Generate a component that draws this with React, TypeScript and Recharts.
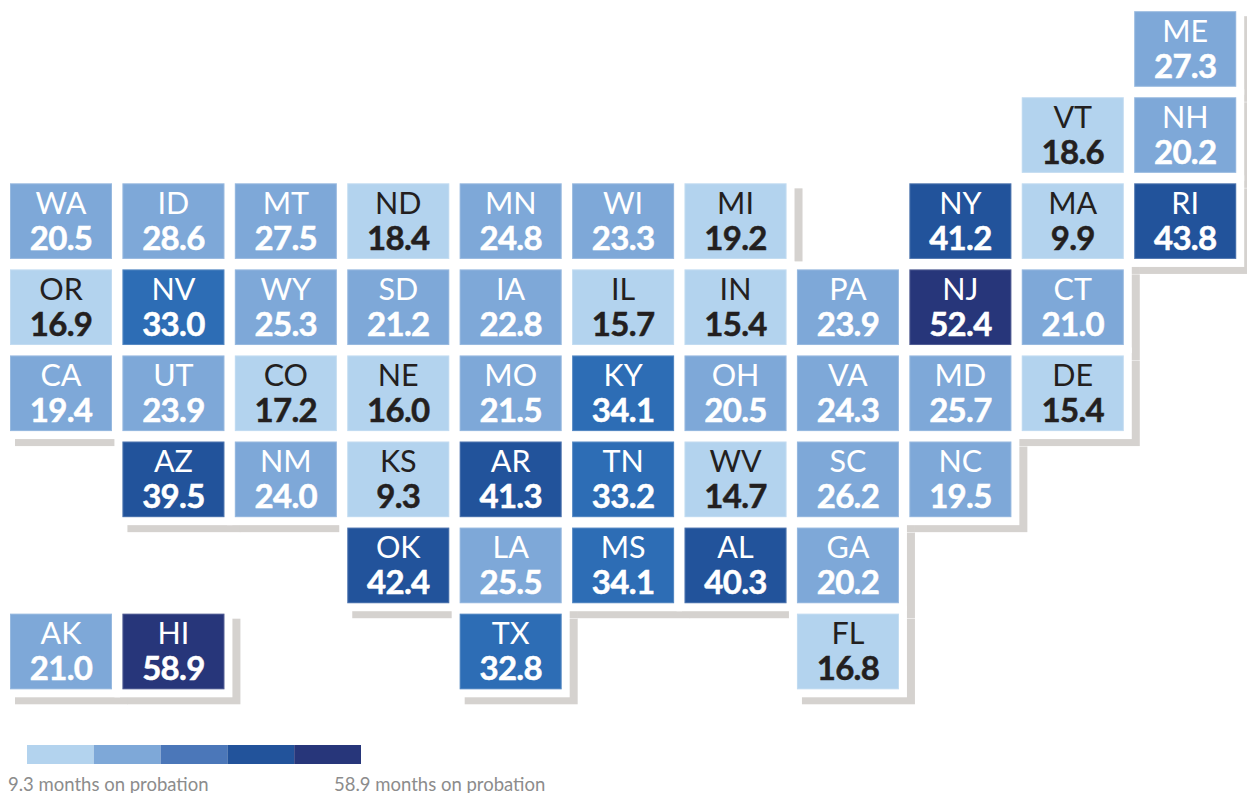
import React from "react";
import { ScatterChart, Scatter, XAxis, YAxis } from "recharts";

const W = 1247;
const H = 793;
const PITCH_X = 112.42;
const PITCH_Y = 86.07;
const FIRST_X = 61;
const FIRST_Y = 49;
const TILE_W = 102;
const TILE_H = 75.6;

const states = ["ME","VT","NH","WA","ID","MT","ND","MN","WI","MI","NY","MA","RI","OR","NV","WY","SD","IA","IL","IN","PA","NJ","CT","CA","UT","CO","NE","MO","KY","OH","VA","MD","DE","AZ","NM","KS","AR","TN","WV","SC","NC","OK","LA","MS","AL","GA","AK","HI","TX","FL"];
const columns = [10,9,10,0,1,2,3,4,5,6,8,9,10,0,1,2,3,4,5,6,7,8,9,0,1,2,3,4,5,6,7,8,9,1,2,3,4,5,6,7,8,3,4,5,6,7,0,1,4,7];
const rows = [0,1,1,2,2,2,2,2,2,2,2,2,2,3,3,3,3,3,3,3,3,3,3,4,4,4,4,4,4,4,4,4,4,5,5,5,5,5,5,5,5,6,6,6,6,6,7,7,7,7];
const months = [27.3,18.6,20.2,20.5,28.6,27.5,18.4,24.8,23.3,19.2,41.2,9.9,43.8,16.9,33.0,25.3,21.2,22.8,15.7,15.4,23.9,52.4,21.0,19.4,23.9,17.2,16.0,21.5,34.1,20.5,24.3,25.7,15.4,39.5,24.0,9.3,41.3,33.2,14.7,26.2,19.5,42.4,25.5,34.1,40.3,20.2,21.0,58.9,32.8,16.8];

const binEdges = [19.3, 30, 39, 50];
const tileColors = ["#b3d3ee", "#7ea8d8", "#2d6db5", "#22539b", "#27367a"];
const legendColors = ["#b3d3ee", "#7ea8d8", "#4b77b9", "#22539b", "#27367a"];
const legendLabels = ["9.3 months on probation", "58.9 months on probation"];
const legendLabelLeft = [8, 334];

const binOf = (v: number) => {
  const i = binEdges.findIndex((e) => v < e);
  return i === -1 ? binEdges.length : i;
};

const toCol = (px: number) => (px - FIRST_X) / PITCH_X;
const toRow = (px: number) => (px - FIRST_Y) / PITCH_Y;

const tiles = states.map((state, i) => ({
  state,
  col: columns[i],
  row: rows[i],
  value: months[i],
}));
const legendCells = legendColors.map((color, i) => ({
  col: toCol(60.4 + 66.8 * i),
  row: toRow(754.5),
  color,
}));
const legendTexts = legendLabels.map((label, i) => ({
  col: toCol(legendLabelLeft[i]),
  row: toRow(791),
  label,
}));

const ShadowShape = (p: any) => (
  <rect x={p.cx - TILE_W / 2 + 5} y={p.cy - TILE_H / 2 + 5} width={TILE_W + 11} height={TILE_H + 10} fill="#d5d2cf" />
);
const HaloShape = (p: any) => (
  <rect x={p.cx - TILE_W / 2 - 8} y={p.cy - TILE_H / 2 - 8} width={TILE_W + 16} height={TILE_H + 16} fill="#ffffff" />
);
const TileShape = (p: any) => {
  const { state, value, row } = p.payload;
  const bin = binOf(value);
  const ink = bin === 0 ? "#231f20" : "#ffffff";
  const top = p.cy - TILE_H / 2;
  const lift = row >= 5 ? 1 : 0;
  return (
    <g>
      <rect x={p.cx - TILE_W / 2} y={top} width={TILE_W} height={TILE_H} fill={tileColors[bin]} />
      <rect x={p.cx - TILE_W / 2 + 0.5} y={top + 0.5} width={TILE_W - 1} height={TILE_H - 1} fill="none" stroke="#ffffff" strokeOpacity={0.2} />
      <text x={p.cx} y={top + 31 - lift} textAnchor="middle" fontFamily="Lato" fontSize={30.5} fill={ink}>
        {state}
      </text>
      <text x={p.cx} y={top + 67 - lift} textAnchor="middle" fontFamily="Lato" fontWeight={700} fontSize={33} letterSpacing={-0.7} stroke={ink} strokeWidth={0.5} fill={ink}>
        {value.toFixed(1)}
      </text>
    </g>
  );
};
const LegendCell = (p: any) => (
  <rect x={p.cx - 33.4} y={p.cy - 9.5} width={66.8} height={19} fill={p.payload.color} />
);
const LegendText = (p: any) => (
  <text x={p.cx} y={p.cy} fontFamily="Lato" fontSize={18.5} fill="#8c8c8c">
    {p.payload.label}
  </text>
);

export default function App() {
  return (
    <div style={{ position: "fixed", left: 0, top: 0, width: W, height: H, overflow: "hidden", background: "#fff" }}>
      <ScatterChart width={W} height={H} margin={{ top: 0, right: 0, bottom: 0, left: 0 }}>
        <XAxis type="number" dataKey="col" hide domain={[toCol(0), toCol(W)]} allowDataOverflow />
        <YAxis type="number" dataKey="row" hide reversed domain={[toRow(0), toRow(H)]} allowDataOverflow />
        <Scatter data={tiles} shape={ShadowShape} isAnimationActive={false} />
        <Scatter data={tiles} shape={HaloShape} isAnimationActive={false} />
        <Scatter data={tiles} shape={TileShape} isAnimationActive={false} />
        <Scatter data={legendCells} shape={LegendCell} isAnimationActive={false} />
        <Scatter data={legendTexts} shape={LegendText} isAnimationActive={false} />
      </ScatterChart>
    </div>
  );
}
